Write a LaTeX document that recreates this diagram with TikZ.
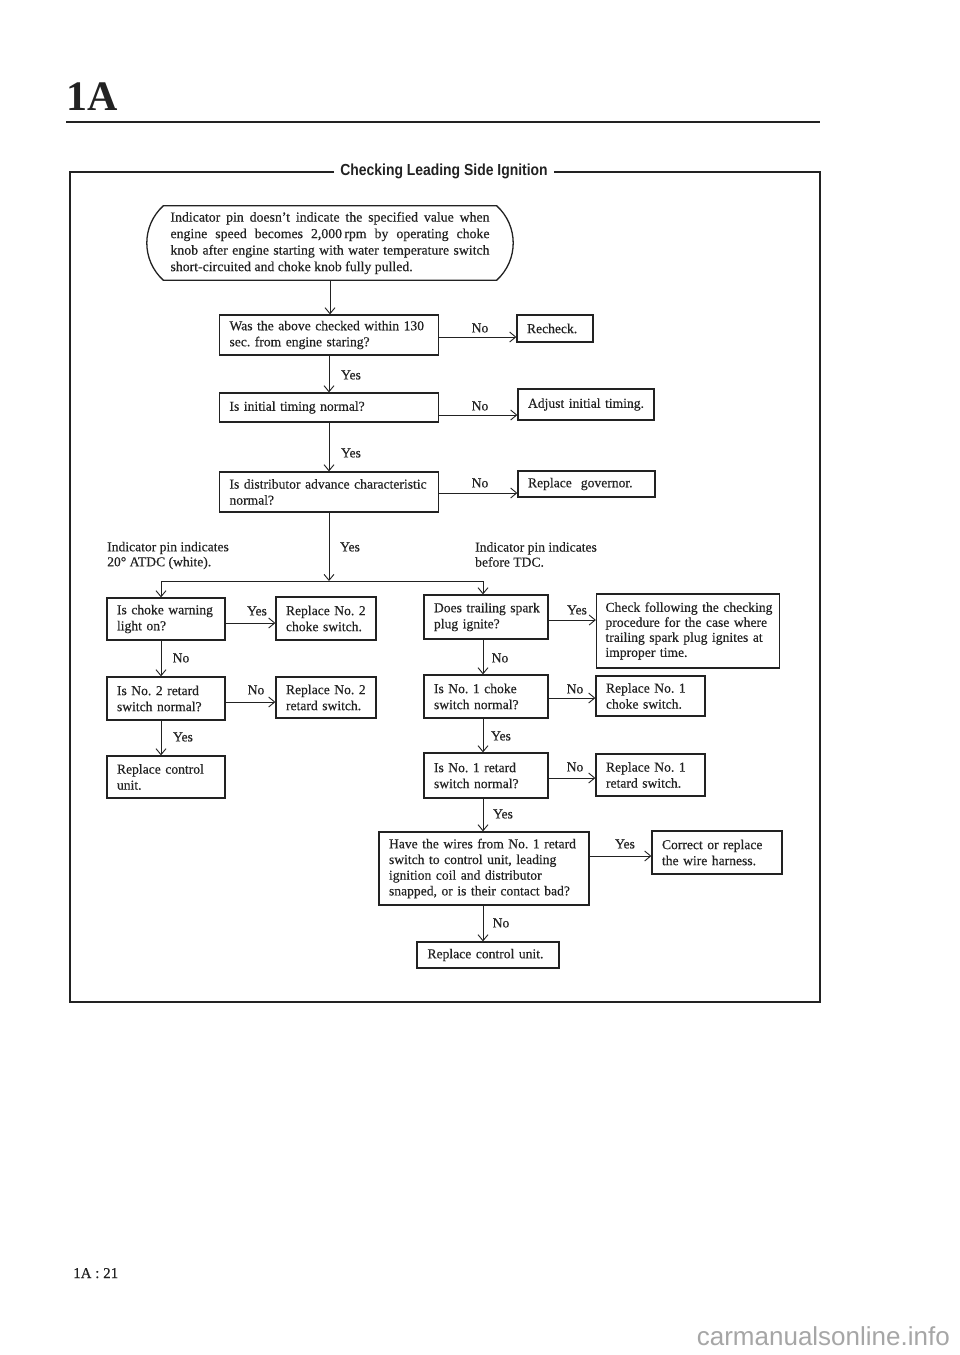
\documentclass[tikz,border=0pt]{standalone}
\usepackage{fontspec}
\setmainfont{Liberation Serif}[UprightFeatures={FakeBold=0.35}]
\newfontfamily\titlefont{Liberation Sans}
\usetikzlibrary{arrows.meta,calc}
\definecolor{ink}{HTML}{222222}
\frenchspacing
\begin{document}
\begin{tikzpicture}[x=1pt,y=-1pt,
  every node/.style={text=ink,font=\fontsize{13.6}{16}\selectfont},
  box/.style={draw=ink,line width=1.3pt,rectangle,align=left,inner xsep=10pt,inner ysep=2pt},
  lbl/.style={inner sep=0pt},
  arr/.style={draw=ink,line width=1pt,-{Straight Barb[length=6pt,width=10pt,line width=0.9pt]}},
  ln/.style={draw=ink,line width=1pt},
  frame/.style={draw=ink,line width=2.6pt}]
\useasboundingbox[fill=white] (0,0) rectangle (960,1355);

% header
\node[anchor=base west,inner sep=0pt,font=\fontsize{42}{42}\selectfont\bfseries] (hdr) at (66,110) {1A};
\draw[frame,line width=2.4pt] (66,122) -- (820,122);

% frame with title
\node[inner xsep=6pt,inner ysep=0pt,font=\titlefont\bfseries\fontsize{16}{16}\selectfont] (title) at (444,171) {\scalebox{0.87}[1]{Checking Leading Side Ignition}};
\draw[frame] (title.west |- 0,172) -- (70,172) -- (70,1002) -- (820,1002) -- (820,172) -- (title.east |- 0,172);

% top rounded statement
\node[inner xsep=7pt,inner ysep=0pt,minimum height=74pt,text width=319pt,align=justify,font=\fontsize{13.8}{16.5}\selectfont] (top) at (330,243)
 {\tolerance=9999\hyphenpenalty=10000 Indicator pin doesn't indicate the specified value when\linebreak engine speed becomes 2,000\,rpm by operating choke\linebreak knob after engine starting with water temperature switch\linebreak short-circuited and choke knob fully pulled.};
\draw[draw=ink,line width=1.3pt] (top.north west) -- (top.north east)
  .. controls ([xshift=22pt,yshift=-20pt]top.north east) and ([xshift=22pt,yshift=20pt]top.south east) .. (top.south east)
  -- (top.south west)
  .. controls ([xshift=-22pt,yshift=20pt]top.south west) and ([xshift=-22pt,yshift=-20pt]top.north west) .. (top.north west) -- cycle;

% main column
\node[box,text width=199pt,minimum height=40pt] (b1) at (329,335) {\mbox{Was the above checked within 130}\\\mbox{sec. from engine staring?}};
\node[box,text width=56pt,minimum height=27pt] (recheck) at (555,328.5) {\mbox{Recheck.}};
\node[box,text width=199pt,minimum height=29pt] (b2) at (329,407.5) {\mbox{Is initial timing normal?}};
\node[box,text width=116pt,minimum height=31pt] (adjust) at (586,404.5) {\mbox{Adjust initial timing.}};
\node[box,text width=199pt,minimum height=40pt] (b3) at (329,492) {\mbox{Is distributor advance characteristic}\\\mbox{normal?}};
\node[box,text width=117pt,minimum height=26pt] (gov) at (586.5,484) {\mbox{Replace\ \ governor.}};

% left column
\node[box,text width=98pt,minimum height=42pt] (l1) at (166,619) {\mbox{Is choke warning}\\\mbox{light on?}};
\node[box,text width=80pt,minimum height=43pt] (lr1) at (326,618.5) {\mbox{Replace No. 2}\\\mbox{choke switch.}};
\node[box,text width=98pt,minimum height=43pt] (l2) at (166,698.5) {\mbox{Is No. 2 retard}\\\mbox{switch normal?}};
\node[box,text width=80pt,minimum height=41pt] (lr2) at (326,697.5) {\mbox{Replace No. 2}\\\mbox{retard switch.}};
\node[box,text width=98pt,minimum height=42pt] (l3) at (166,777) {\mbox{Replace control}\\\mbox{unit.}};

% right column
\node[box,text width=104pt,minimum height=44pt] (r1) at (486,617) {\mbox{Does trailing spark}\\\mbox{plug ignite?}};
\node[box,text width=165pt,minimum height=74pt,inner xsep=9pt,font=\fontsize{13.6}{15}\selectfont] (rr1) at (688,631) {\mbox{Check following the checking}\\\mbox{procedure for the case where}\\\mbox{trailing spark plug ignites at}\\\mbox{improper time.}};
\node[box,text width=104pt,minimum height=43pt] (r2) at (486,696.5) {\mbox{Is No. 1 choke}\\\mbox{switch normal?}};
\node[box,text width=89pt,minimum height=40pt] (rr2) at (650.5,696) {\mbox{Replace No. 1}\\\mbox{choke switch.}};
\node[box,text width=104pt,minimum height=45pt] (r3) at (486,775.5) {\mbox{Is No. 1 retard}\\\mbox{switch normal?}};
\node[box,text width=89pt,minimum height=42pt] (rr3) at (650.5,775) {\mbox{Replace No. 1}\\\mbox{retard switch.}};
\node[box,text width=190pt,minimum height=73pt,font=\fontsize{13.6}{15.7}\selectfont] (bb1) at (484,868.5) {\mbox{Have the wires from No. 1 retard}\\\mbox{switch to control unit, leading}\\\mbox{ignition coil and distributor}\\\mbox{snapped, or is their contact bad?}};
\node[box,text width=110pt,minimum height=43pt] (br) at (717,852.5) {\mbox{Correct or replace}\\\mbox{the wire harness.}};
\node[box,text width=121pt,minimum height=26pt,inner xsep=10.5pt] (bb2) at (488,955) {\mbox{Replace control unit.}};

% side annotations
\node[lbl,anchor=west,align=left,font=\fontsize{13.6}{15}\selectfont] (lt) at (107,555.5) {Indicator pin indicates\\20° ATDC (white).};
\node[lbl,anchor=west,align=left,font=\fontsize{13.6}{15}\selectfont] (rt) at (475,554.5) {Indicator pin indicates\\before TDC.};

% labels
\node[lbl] (y0) at (480,328) {No};
\node[lbl] (y1) at (351,375) {Yes};
\node[lbl] (y2) at (480,406) {No};
\node[lbl] (y3) at (351,453) {Yes};
\node[lbl] (y4) at (480,483) {No};
\node[lbl] (y5) at (350,547) {Yes};
\node[lbl] (y6) at (257,611) {Yes};
\node[lbl] (y7) at (181,658) {No};
\node[lbl] (y8) at (256,690) {No};
\node[lbl] (y9) at (183,737) {Yes};
\node[lbl] (y10) at (577,610) {Yes};
\node[lbl] (y11) at (500,658) {No};
\node[lbl] (y12) at (575,689) {No};
\node[lbl] (y13) at (501,736) {Yes};
\node[lbl] (y14) at (575,767) {No};
\node[lbl] (y15) at (503,814) {Yes};
\node[lbl] (y16) at (625,844) {Yes};
\node[lbl] (y17) at (501,923) {No};

% connectors main column
\draw[arr] (top.south) -- (top.south |- b1.north);
\draw[arr] ([yshift=-2pt]b1.east) -- ([yshift=-2pt]b1.east -| recheck.west);
\draw[arr] (b1.south) -- (b2.north);
\draw[arr] ([yshift=-7.5pt]b2.east) -- ([yshift=-7.5pt]b2.east -| adjust.west);
\draw[arr] (b2.south) -- (b3.north);
\draw[arr] ([yshift=-1pt]b3.east) -- ([yshift=-1pt]b3.east -| gov.west);

% split
\coordinate (split) at (329,581);
\coordinate (lc) at ([xshift=-5pt]l1.north);
\coordinate (rc) at ([xshift=-3pt]r1.north);
\draw[arr] (b3.south) -- (split);
\draw[ln] (lc |- split) -- (rc |- split);
\draw[arr] (lc |- split) -- (lc);
\draw[arr] (rc |- split) -- (rc);

% left column connectors
\draw[arr] ([yshift=-4pt]l1.east) -- ([yshift=-4pt]l1.east -| lr1.west);
\draw[arr] ([xshift=-5pt]l1.south) -- ([xshift=-5pt]l2.north);
\draw[arr] ([yshift=-3.5pt]l2.east) -- ([yshift=-3.5pt]l2.east -| lr2.west);
\draw[arr] ([xshift=-5pt]l2.south) -- ([xshift=-5pt]l3.north);

% right column connectors
\draw[arr] ([yshift=-3pt]r1.east) -- ([yshift=-3pt]r1.east -| rr1.west);
\draw[arr] ([xshift=-3pt]r1.south) -- ([xshift=-3pt]r2.north);
\draw[arr] ([yshift=-1.5pt]r2.east) -- ([yshift=-1.5pt]r2.east -| rr2.west);
\draw[arr] ([xshift=-3pt]r2.south) -- ([xshift=-3pt]r3.north);
\draw[arr] ([yshift=-2.5pt]r3.east) -- ([yshift=-2.5pt]r3.east -| rr3.west);
\coordinate (r3b) at ([xshift=-3pt]r3.south);
\draw[arr] (r3b) -- (r3b |- bb1.north);
\draw[arr] ([yshift=12.5pt]bb1.east) -- ([yshift=12.5pt]bb1.east -| br.west);
\coordinate (bb1b) at ([xshift=-1pt]bb1.south);
\draw[arr] (bb1b) -- (bb1b |- bb2.north);

% footer
\node[anchor=base west,inner sep=0pt,font=\fontsize{15}{15}\selectfont] (pg) at (73,1278) {1A : 21};
\node[anchor=base east,inner sep=0pt,text=gray!70,font=\titlefont\fontsize{26}{26}\selectfont] (wm) at (950,1345) {carmanualsonline.info};
\end{tikzpicture}
\end{document}
